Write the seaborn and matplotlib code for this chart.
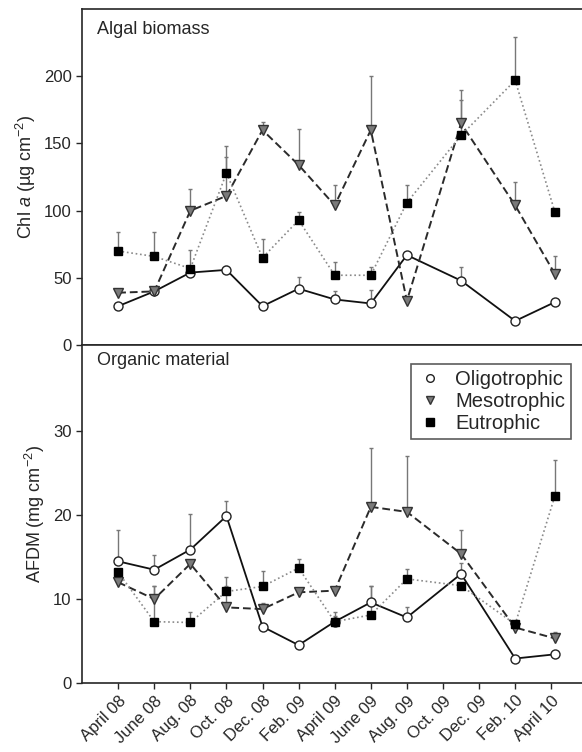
# Seasonal algal biomass and organic material by trophic state
import pandas as pd
import numpy as np
import matplotlib.pyplot as plt
import seaborn as sns

# ---------------------------------------------------------
# Data
# ---------------------------------------------------------
tick_labels = ["April 08", "June 08", "Aug. 08", "Oct. 08", "Dec. 08", "Feb. 09",
               "April 09", "June 09", "Aug. 09", "Oct. 09", "Dec. 09", "Feb. 10", "April 10"]
tick_months = [0, 2, 4, 6, 8, 10, 12, 14, 16, 18, 20, 22, 24]

# sampling dates, months after April 2008
sample_months = [0, 2, 4, 6, 8, 10, 12, 14, 16, 19, 22, 24.2]

chl_oligo = [29, 40, 54, 56, 29, 42, 34, 31, 67, 48, 18, 32]
chl_oligo_sd = [0, 2, 2, 3, 0, 9, 6, 10, 0, 10, 0, 0]
chl_meso = [39, 40, 100, 111, 160, 134, 104, 160, 33, 165, 104, 53]
chl_meso_sd = [0, 3, 16, 29, 6, 27, 15, 40, 0, 25, 17, 13]
chl_eutro = [70, 66, 57, 128, 65, 93, 52, 52, 106, 156, 197, 99]
chl_eutro_sd = [14, 18, 14, 20, 14, 6, 10, 6, 13, 26, 32, 0]

afdm_oligo = [14.5, 13.5, 15.9, 19.9, 6.7, 4.5, 7.3, 9.6, 7.8, 13.0, 2.9, 3.4]
afdm_oligo_sd = [3.7, 1.7, 4.3, 1.8, 0, 0, 1.1, 2.0, 1.2, 1.3, 0, 0.4]
afdm_meso = [12.0, 10.0, 14.2, 9.0, 8.8, 10.8, 11.0, 21.0, 20.4, 15.4, 6.6, 5.3]
afdm_meso_sd = [0, 1.6, 0, 2.6, 0.7, 0, 0, 7.0, 6.7, 2.8, 0, 0.8]
afdm_eutro = [13.2, 7.3, 7.2, 10.9, 11.5, 13.7, 7.3, 8.1, 12.4, 11.6, 7.0, 22.3]
afdm_eutro_sd = [0, 4.2, 1.2, 1.7, 1.9, 1.1, 0.7, 3.5, 1.2, 0, 0, 4.3]

groups = ["Oligotrophic", "Mesotrophic", "Eutrophic"]

# ---------------------------------------------------------
# Style
# ---------------------------------------------------------
sns.set_style("ticks")
plt.rcParams['font.family'] = ['Liberation Sans', 'DejaVu Sans']
plt.rcParams['mathtext.fontset'] = 'custom'
plt.rcParams['mathtext.rm'] = 'Liberation Sans'
plt.rcParams['mathtext.it'] = 'Liberation Sans:italic'
plt.rcParams['axes.linewidth'] = 1.2

styles = {
    "Oligotrophic": dict(marker="o", linestyle="-", color="#111111", lw=1.3,
                         mfc="white", mec="#222222", ms=6.5),
    "Mesotrophic": dict(marker="v", linestyle=(0, (4, 2)), color="#2a2a2a", lw=1.4,
                        mfc="#7a7a7a", mec="#333333", ms=6.5),
    "Eutrophic": dict(marker="s", linestyle=":", color="#8a8a8a", lw=1.2,
                      mfc="black", mec="black", ms=6),
}

fig = plt.figure(figsize=(5.82, 7.52), dpi=100)
ax1 = fig.add_axes([0.141, 0.541, 0.862, 0.447])
ax2 = fig.add_axes([0.141, 0.092, 0.862, 0.449])


def draw_panel(ax, means, sds):
    for g, m, s in zip(groups, means, sds):
        st = styles[g]
        df = pd.DataFrame({"month": sample_months, "value": m, "sd": s})
        # one-sided (upper) error bars
        ax.errorbar(df["month"], df["value"], yerr=[np.zeros(len(df)), df["sd"]],
                    fmt="none", ecolor="#777777", elinewidth=1, capsize=1.5,
                    capthick=1, zorder=1)
        sns.lineplot(data=df, x="month", y="value", ax=ax, sort=False,
                     color=st["color"], linestyle=st["linestyle"], linewidth=st["lw"],
                     marker=st["marker"], markerfacecolor=st["mfc"],
                     markeredgecolor=st["mec"], markeredgewidth=1,
                     markersize=st["ms"], zorder=3, label=g)


draw_panel(ax1, [chl_oligo, chl_meso, chl_eutro], [chl_oligo_sd, chl_meso_sd, chl_eutro_sd])
draw_panel(ax2, [afdm_oligo, afdm_meso, afdm_eutro], [afdm_oligo_sd, afdm_meso_sd, afdm_eutro_sd])

for ax in (ax1, ax2):
    ax.set_xlim(-2, 25.8)
    ax.set_xticks(tick_months)
    ax.tick_params(direction="out", length=4, width=1, labelsize=12)
    ax.set_xlabel("")

ax1.set_ylim(0, 250)
ax1.set_yticks([0, 50, 100, 150, 200])
ax1.set_xticklabels([])
ax1.set_ylabel(r"Chl $\it{a}$ (µg cm$^{-2}$)", fontsize=13)
ax1.text(0.03, 0.965, "Algal biomass", transform=ax1.transAxes, fontsize=13,
         va="top", ha="left")
ax1.get_legend().remove()

ax2.set_ylim(0, 40.3)
ax2.set_yticks([0, 10, 20, 30])
ax2.set_xticklabels(tick_labels, rotation=45, ha="right", rotation_mode="anchor")
ax2.set_ylabel(r"AFDM (mg cm$^{-2}$)", fontsize=13)
ax2.text(0.03, 0.98, "Organic material", transform=ax2.transAxes, fontsize=13,
         va="top", ha="left")

handles = [plt.Line2D([], [], linestyle="none", marker=styles[g]["marker"],
                      markerfacecolor=styles[g]["mfc"], markeredgecolor=styles[g]["mec"],
                      markersize=5.5) for g in groups]
leg = ax2.legend(handles, groups, loc="upper right", bbox_to_anchor=(0.975, 0.945),
                 fontsize=14.5, frameon=True, fancybox=False, edgecolor="#333333",
                 handlelength=1.3, handletextpad=0.6, labelspacing=0.15,
                 borderpad=0.3, borderaxespad=0)
leg.get_frame().set_linewidth(1.2)

plt.savefig("out.png", dpi=100)
